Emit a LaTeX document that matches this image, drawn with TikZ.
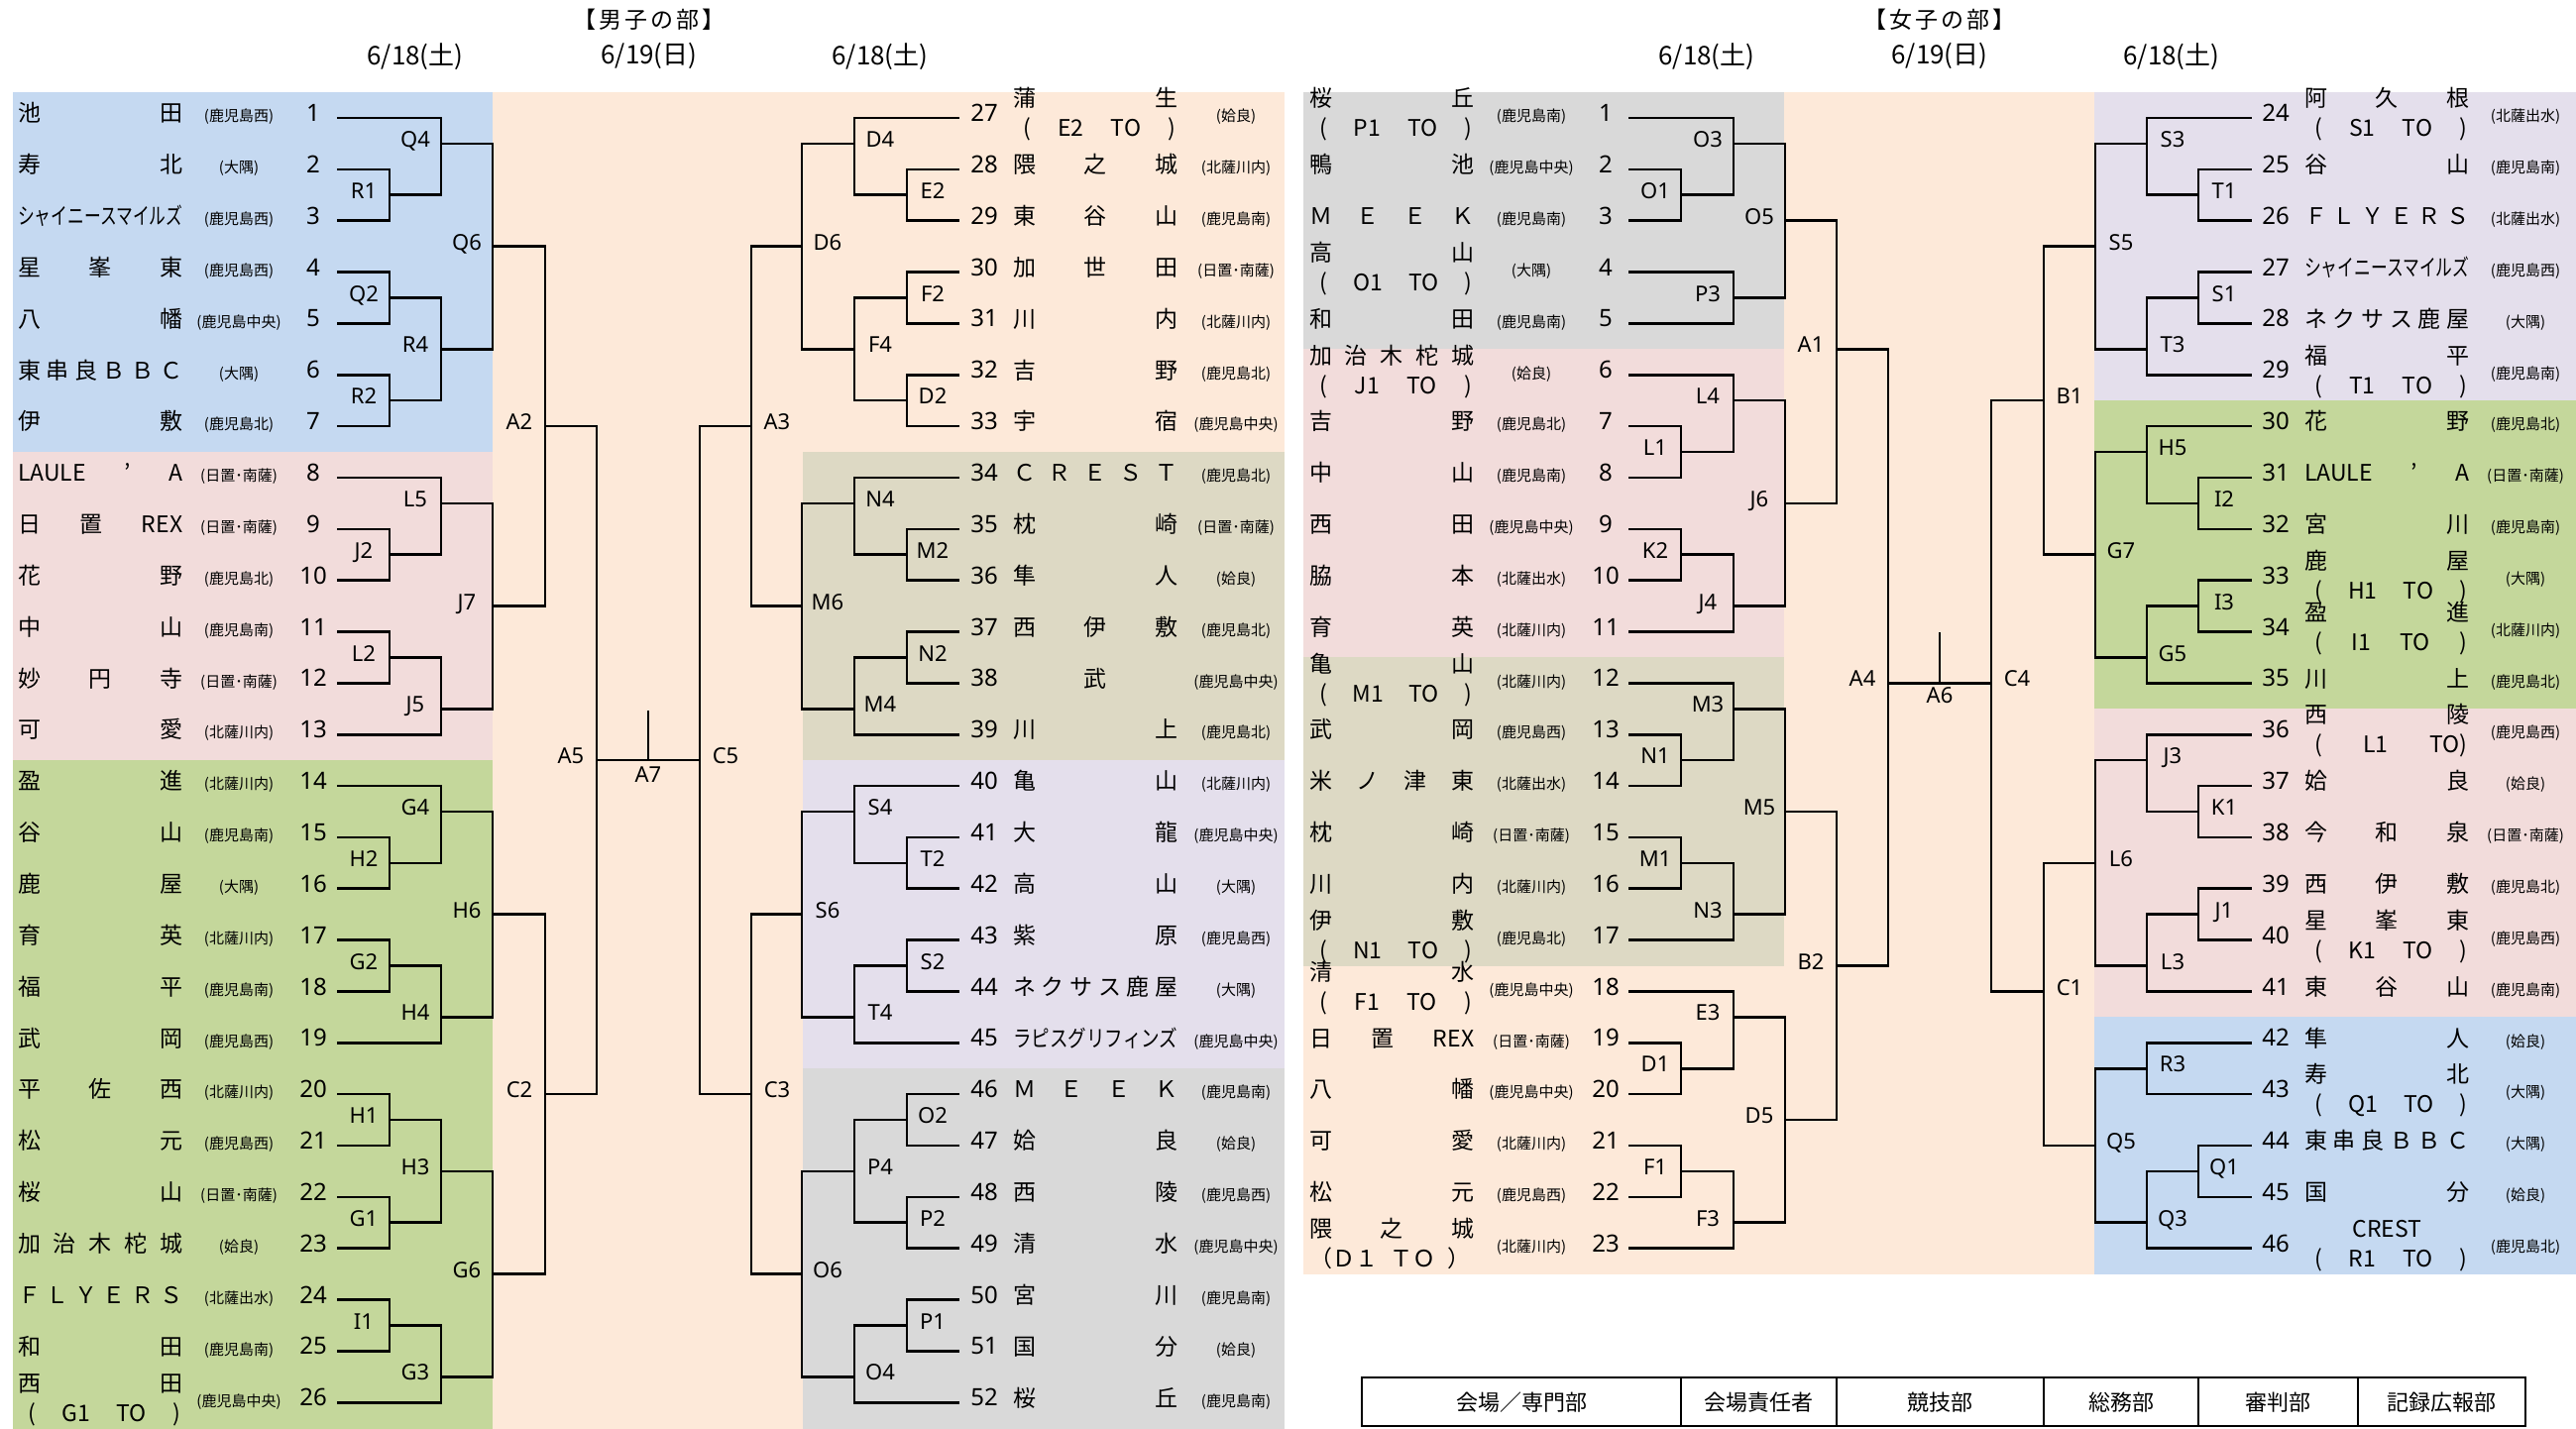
\documentclass[tikz,border=0pt]{standalone}
\usepackage{fontspec}
\usepackage{graphicx}
\setmainfont{Noto Sans CJK JP}
\newfontfamily\latf{Noto Sans}
\definecolor{cBlue}{HTML}{C5D9F1}
\definecolor{cPink}{HTML}{F2DCDB}
\definecolor{cGreen}{HTML}{C4D79B}
\definecolor{cPeach}{HTML}{FDE9D9}
\definecolor{cTan}{HTML}{DDD9C4}
\definecolor{cLav}{HTML}{E4DFEC}
\definecolor{cGrey}{HTML}{D9D9D9}
\pgfmathdeclarefunction{rowy}{1}{\pgfmathparse{119+51.85*(#1-1)}}
\tikzset{
  br/.style={line width=2.6pt, line cap=rect},
  lab/.style={font=\latf\fontsize{22}{26}\selectfont, inner sep=0pt, text height=.714em, text depth=0pt},
  num/.style={font=\latf\fontsize{24}{28}\selectfont, inner sep=0pt, text height=.714em, text depth=0pt},
  nm/.style={font=\fontsize{23}{27}\selectfont, inner sep=0pt, text height=.75em, text depth=0pt},
  dist/.style={font=\fontsize{15}{18}\selectfont, inner sep=0pt, text height=.75em, text depth=0pt},
  hd/.style={font=\fontsize{26}{30}\selectfont, inner sep=0pt},
  hc/.style={font=\fontsize{23}{27}\selectfont, inner sep=0pt},
  hdate/.style={font=\fontsize{26}{30}\selectfont, inner sep=0pt},
  tb/.style={font=\fontsize{22}{26}\selectfont, inner sep=0pt},
}
% team row: id, yrow, number, xname, xdist, xnum, name, district
\newcommand\TR[8]{%
  \node[num] (n#1) at (#6,{rowy(#2)}) {#3};
  \node[nm,anchor=west] (t#1) at (#4,{rowy(#2)}) {\hbox to 166pt{#7}};
  \node[dist] (d#1) at (#5,{rowy(#2)}) {(#8)};}
\newcommand\TRR[9]{%
  \node[num] (n#1) at (#6,{rowy(#2)}) {#3};
  \node[nm,anchor=west] (t#1) at (#4,{rowy(#2)-15}) {\hbox to 166pt{#7}};
  \node[nm,anchor=west] (u#1) at (#4,{rowy(#2)+15}) {\hbox to 166pt{#8}};
  \node[dist] (d#1) at (#5,{rowy(#2)}) {(#9)};}
\newcommand\ML[3]{\TR{m#1}{#1}{#1}{18}{241}{316}{#2}{#3}}
\newcommand\MLL[4]{\TRR{m#1}{#1}{#1}{18}{241}{316}{#2}{#3}{#4}}
\newcommand\MR[3]{\TR{m#1}{#1-26}{#1}{1022}{1247}{993}{#2}{#3}}
\newcommand\MRR[4]{\TRR{m#1}{#1-26}{#1}{1022}{1247}{993}{#2}{#3}{#4}}
\newcommand\WL[3]{\TR{w#1}{#1}{#1}{1321}{1545}{1620}{#2}{#3}}
\newcommand\WLL[4]{\TRR{w#1}{#1}{#1}{1321}{1545}{1620}{#2}{#3}{#4}}
\newcommand\WR[3]{\TR{w#1}{#1-23}{#1}{2325}{2548}{2296}{#2}{#3}}
\newcommand\WRR[4]{\TRR{w#1}{#1-23}{#1}{2325}{2548}{2296}{#2}{#3}{#4}}
\newcommand\TO[1]{\kern10pt(\hfill #1\hfill TO\hfill)\kern2pt}
\newcommand\Rsz[1]{\resizebox{166pt}{\height}{#1}}
% bracket: prefix, name, xv, a, b, out, xnext
\newcommand\bL[7]{%
  \draw[br] (#3,{rowy(#4)}) -- (#3,{rowy(#5)});
  \draw[br] (#3,{rowy(#6)}) -- (#7,{rowy(#6)});
  \node[lab] (#1#2) at ({#3-26},{rowy(#6)}) {#2};}
\newcommand\bR[7]{%
  \draw[br] (#3,{rowy(#4)}) -- (#3,{rowy(#5)});
  \draw[br] (#3,{rowy(#6)}) -- (#7,{rowy(#6)});
  \node[lab] (#1#2) at ({#3+26},{rowy(#6)}) {#2};}
\newcommand\hcs{\kern3pt}
\begin{document}
\begin{tikzpicture}[x=1pt,y=-1pt]
\useasboundingbox (0,0) rectangle (2599,1442);
\fill[white] (0,0) rectangle (2599,1442);
% ---------- backgrounds: men ----------
\fill[cPeach] (497,{rowy(.5)}) rectangle (1296,1442);
\fill[cBlue] (13,{rowy(.5)}) rectangle (497,{rowy(7.5)});
\fill[cPink] (13,{rowy(7.5)}) rectangle (497,{rowy(13.5)});
\fill[cGreen] (13,{rowy(13.5)}) rectangle (497,1442);
\fill[cTan] (810,{rowy(7.5)}) rectangle (1296,{rowy(13.5)});
\fill[cLav] (810,{rowy(13.5)}) rectangle (1296,{rowy(19.5)});
\fill[cGrey] (810,{rowy(19.5)}) rectangle (1296,1442);
% ---------- backgrounds: women ----------
\fill[cPeach] (1315,{rowy(.5)}) rectangle (2113,{rowy(23.5)});
\fill[cGrey] (1315,{rowy(.5)}) rectangle (1800,{rowy(5.5)});
\fill[cPink] (1315,{rowy(5.5)}) rectangle (1800,{rowy(11.5)});
\fill[cTan] (1315,{rowy(11.5)}) rectangle (1800,{rowy(17.5)});
\fill[cLav] (2113,{rowy(.5)}) rectangle (2599,{rowy(6.5)});
\fill[cGreen] (2113,{rowy(6.5)}) rectangle (2599,{rowy(12.5)});
\fill[cPink] (2113,{rowy(12.5)}) rectangle (2599,{rowy(18.5)});
\fill[cBlue] (2113,{rowy(18.5)}) rectangle (2599,{rowy(23.5)});
% ---------- headers ----------
\node[hd] (h1) at (419,57) {6/18(土)};
\node[hc] (h2) at (655,20) {【\hcs 男\hcs 子\hcs の\hcs 部\hcs 】};
\node[hdate] (h3) at (655,56) {6/19(日)};
\node[hd] (h4) at (888,57) {6/18(土)};
\node[hd] (h5) at (1722,57) {6/18(土)};
\node[hc] (h6) at (1957,20) {【\hcs 女\hcs 子\hcs の\hcs 部\hcs 】};
\node[hdate] (h7) at (1957,56) {6/19(日)};
\node[hd] (h8) at (2191,57) {6/18(土)};
% ---------- men left teams ----------
\ML{1}{池\hfill 田}{鹿児島西}
\ML{2}{寿\hfill 北}{大隅}
\ML{3}{\Rsz{シャイニースマイルズ}}{鹿児島西}
\ML{4}{星\hfill 峯\hfill 東}{鹿児島西}
\ML{5}{八\hfill 幡}{鹿児島中央}
\ML{6}{東\hfill 串\hfill 良\hfill Ｂ\hfill Ｂ\hfill Ｃ}{大隅}
\ML{7}{伊\hfill 敷}{鹿児島北}
\ML{8}{LAULE\hfill ’\hfill A}{日置･南薩}
\ML{9}{日\hfill 置\hfill REX}{日置･南薩}
\ML{10}{花\hfill 野}{鹿児島北}
\ML{11}{中\hfill 山}{鹿児島南}
\ML{12}{妙\hfill 円\hfill 寺}{日置･南薩}
\ML{13}{可\hfill 愛}{北薩川内}
\ML{14}{盈\hfill 進}{北薩川内}
\ML{15}{谷\hfill 山}{鹿児島南}
\ML{16}{鹿\hfill 屋}{大隅}
\ML{17}{育\hfill 英}{北薩川内}
\ML{18}{福\hfill 平}{鹿児島南}
\ML{19}{武\hfill 岡}{鹿児島西}
\ML{20}{平\hfill 佐\hfill 西}{北薩川内}
\ML{21}{松\hfill 元}{鹿児島西}
\ML{22}{桜\hfill 山}{日置･南薩}
\ML{23}{加\hfill 治\hfill 木\hfill 柁\hfill 城}{姶良}
\ML{24}{Ｆ\hfill Ｌ\hfill Ｙ\hfill Ｅ\hfill Ｒ\hfill Ｓ}{北薩出水}
\ML{25}{和\hfill 田}{鹿児島南}
\MLL{26}{西\hfill 田}{\TO{G1}}{鹿児島中央}
% ---------- men right teams ----------
\MRR{27}{蒲\hfill 生}{\TO{E2}}{姶良}
\MR{28}{隈\hfill 之\hfill 城}{北薩川内}
\MR{29}{東\hfill 谷\hfill 山}{鹿児島南}
\MR{30}{加\hfill 世\hfill 田}{日置･南薩}
\MR{31}{川\hfill 内}{北薩川内}
\MR{32}{吉\hfill 野}{鹿児島北}
\MR{33}{宇\hfill 宿}{鹿児島中央}
\MR{34}{Ｃ\hfill Ｒ\hfill Ｅ\hfill Ｓ\hfill Ｔ}{鹿児島北}
\MR{35}{枕\hfill 崎}{日置･南薩}
\MR{36}{隼\hfill 人}{姶良}
\MR{37}{西\hfill 伊\hfill 敷}{鹿児島北}
\MR{38}{\hfill 武\hfill}{鹿児島中央}
\MR{39}{川\hfill 上}{鹿児島北}
\MR{40}{亀\hfill 山}{北薩川内}
\MR{41}{大\hfill 龍}{鹿児島中央}
\MR{42}{高\hfill 山}{大隅}
\MR{43}{紫\hfill 原}{鹿児島西}
\MR{44}{ネ\hfill ク\hfill サ\hfill ス\hfill 鹿\hfill 屋}{大隅}
\MR{45}{\Rsz{ラピスグリフィンズ}}{鹿児島中央}
\MR{46}{Ｍ\hfill Ｅ\hfill Ｅ\hfill Ｋ}{鹿児島南}
\MR{47}{姶\hfill 良}{姶良}
\MR{48}{西\hfill 陵}{鹿児島西}
\MR{49}{清\hfill 水}{鹿児島中央}
\MR{50}{宮\hfill 川}{鹿児島南}
\MR{51}{国\hfill 分}{姶良}
\MR{52}{桜\hfill 丘}{鹿児島南}
% ---------- women left teams ----------
\WLL{1}{桜\hfill 丘}{\TO{P1}}{鹿児島南}
\WL{2}{鴨\hfill 池}{鹿児島中央}
\WL{3}{Ｍ\hfill Ｅ\hfill Ｅ\hfill Ｋ}{鹿児島南}
\WLL{4}{高\hfill 山}{\TO{O1}}{大隅}
\WL{5}{和\hfill 田}{鹿児島南}
\WLL{6}{加\hfill 治\hfill 木\hfill 柁\hfill 城}{\TO{J1}}{姶良}
\WL{7}{吉\hfill 野}{鹿児島北}
\WL{8}{中\hfill 山}{鹿児島南}
\WL{9}{西\hfill 田}{鹿児島中央}
\WL{10}{脇\hfill 本}{北薩出水}
\WL{11}{育\hfill 英}{北薩川内}
\WLL{12}{亀\hfill 山}{\TO{M1}}{北薩川内}
\WL{13}{武\hfill 岡}{鹿児島西}
\WL{14}{米\hfill ノ\hfill 津\hfill 東}{北薩出水}
\WL{15}{枕\hfill 崎}{日置･南薩}
\WL{16}{川\hfill 内}{北薩川内}
\WLL{17}{伊\hfill 敷}{\TO{N1}}{鹿児島北}
\WLL{18}{清\hfill 水}{\TO{F1}}{鹿児島中央}
\WL{19}{日\hfill 置\hfill REX}{日置･南薩}
\WL{20}{八\hfill 幡}{鹿児島中央}
\WL{21}{可\hfill 愛}{北薩川内}
\WL{22}{松\hfill 元}{鹿児島西}
\WLL{23}{隈\hfill 之\hfill 城}{（Ｄ１\kern12pt ＴＯ\kern12pt ）\hfill}{北薩川内}
% ---------- women right teams ----------
\WRR{24}{阿\hfill 久\hfill 根}{\TO{S1}}{北薩出水}
\WR{25}{谷\hfill 山}{鹿児島南}
\WR{26}{Ｆ\hfill Ｌ\hfill Ｙ\hfill Ｅ\hfill Ｒ\hfill Ｓ}{北薩出水}
\WR{27}{\Rsz{シャイニースマイルズ}}{鹿児島西}
\WR{28}{ネ\hfill ク\hfill サ\hfill ス\hfill 鹿\hfill 屋}{大隅}
\WRR{29}{福\hfill 平}{\TO{T1}}{鹿児島南}
\WR{30}{花\hfill 野}{鹿児島北}
\WR{31}{LAULE\hfill ’\hfill A}{日置･南薩}
\WR{32}{宮\hfill 川}{鹿児島南}
\WRR{33}{鹿\hfill 屋}{\TO{H1}}{大隅}
\WRR{34}{盈\hfill 進}{\TO{I1}}{北薩川内}
\WR{35}{川\hfill 上}{鹿児島北}
\WRR{36}{西\hfill 陵}{\kern10pt(\hfill L1\hfill TO)\kern2pt}{鹿児島西}
\WR{37}{姶\hfill 良}{姶良}
\WR{38}{今\hfill 和\hfill 泉}{日置･南薩}
\WR{39}{西\hfill 伊\hfill 敷}{鹿児島北}
\WRR{40}{星\hfill 峯\hfill 東}{\TO{K1}}{鹿児島西}
\WR{41}{東\hfill 谷\hfill 山}{鹿児島南}
\WR{42}{隼\hfill 人}{姶良}
\WRR{43}{寿\hfill 北}{\TO{Q1}}{大隅}
\WR{44}{東\hfill 串\hfill 良\hfill Ｂ\hfill Ｂ\hfill Ｃ}{大隅}
\WR{45}{国\hfill 分}{姶良}
\WRR{46}{\hfill CREST\hfill}{\TO{R1}}{鹿児島北}
% ---------- team lines ----------
\foreach \r/\x in {1/445,2/393,3/393,4/393,5/393,6/393,7/393,8/445,9/393,10/393,11/393,12/393,13/445,14/445,15/393,16/393,17/393,18/393,19/445,20/393,21/393,22/393,23/393,24/393,25/393,26/445}
  \draw[br] (341,{rowy(\r)}) -- (\x,{rowy(\r)});
\foreach \r/\x in {1/862,2/915,3/915,4/915,5/915,6/915,7/915,8/862,9/915,10/915,11/915,12/915,13/862,14/862,15/915,16/915,17/915,18/915,19/862,20/915,21/915,22/915,23/915,24/915,25/915,26/862}
  \draw[br] (967,{rowy(\r)}) -- (\x,{rowy(\r)});
\foreach \r/\x in {1/1749,2/1696,3/1696,4/1749,5/1749,6/1749,7/1696,8/1696,9/1696,10/1696,11/1749,12/1749,13/1696,14/1696,15/1696,16/1696,17/1749,18/1749,19/1696,20/1696,21/1696,22/1696,23/1749}
  \draw[br] (1644,{rowy(\r)}) -- (\x,{rowy(\r)});
\foreach \r/\x in {1/2166,2/2218,3/2218,4/2218,5/2218,6/2166,7/2166,8/2218,9/2218,10/2218,11/2218,12/2166,13/2166,14/2218,15/2218,16/2218,17/2218,18/2166,19/2166,20/2166,21/2218,22/2218,23/2166}
  \draw[br] (2271,{rowy(\r)}) -- (\x,{rowy(\r)});
% ---------- men left brackets ----------
\bL{m}{R1}{393}{2}{3}{2.5}{445}
\bL{m}{Q4}{445}{1}{2.5}{1.5}{497}
\bL{m}{Q2}{393}{4}{5}{4.5}{445}
\bL{m}{R2}{393}{6}{7}{6.5}{445}
\bL{m}{R4}{445}{4.5}{6.5}{5.5}{497}
\bL{m}{Q6}{497}{1.5}{5.5}{3.5}{550}
\bL{m}{J2}{393}{9}{10}{9.5}{445}
\bL{m}{L5}{445}{8}{9.5}{8.5}{497}
\bL{m}{L2}{393}{11}{12}{11.5}{445}
\bL{m}{J5}{445}{11.5}{13}{12.5}{497}
\bL{m}{J7}{497}{8.5}{12.5}{10.5}{550}
\bL{m}{H2}{393}{15}{16}{15.5}{445}
\bL{m}{G4}{445}{14}{15.5}{14.5}{497}
\bL{m}{G2}{393}{17}{18}{17.5}{445}
\bL{m}{H4}{445}{17.5}{19}{18.5}{497}
\bL{m}{H6}{497}{14.5}{18.5}{16.5}{550}
\bL{m}{H1}{393}{20}{21}{20.5}{445}
\bL{m}{G1}{393}{22}{23}{22.5}{445}
\bL{m}{H3}{445}{20.5}{22.5}{21.5}{497}
\bL{m}{I1}{393}{24}{25}{24.5}{445}
\bL{m}{G3}{445}{24.5}{26}{25.5}{497}
\bL{m}{G6}{497}{21.5}{25.5}{23.5}{550}
\bL{m}{A2}{550}{3.5}{10.5}{7}{602}
\bL{m}{C2}{550}{16.5}{23.5}{20}{602}
\bL{m}{A5}{602}{7}{20}{13.5}{654}
% ---------- men right brackets ----------
\bR{m}{E2}{915}{2}{3}{2.5}{862}
\bR{m}{D4}{862}{1}{2.5}{1.5}{809}
\bR{m}{F2}{915}{4}{5}{4.5}{862}
\bR{m}{D2}{915}{6}{7}{6.5}{862}
\bR{m}{F4}{862}{4.5}{6.5}{5.5}{809}
\bR{m}{D6}{809}{1.5}{5.5}{3.5}{758}
\bR{m}{M2}{915}{9}{10}{9.5}{862}
\bR{m}{N4}{862}{8}{9.5}{8.5}{809}
\bR{m}{N2}{915}{11}{12}{11.5}{862}
\bR{m}{M4}{862}{11.5}{13}{12.5}{809}
\bR{m}{M6}{809}{8.5}{12.5}{10.5}{758}
\bR{m}{T2}{915}{15}{16}{15.5}{862}
\bR{m}{S4}{862}{14}{15.5}{14.5}{809}
\bR{m}{S2}{915}{17}{18}{17.5}{862}
\bR{m}{T4}{862}{17.5}{19}{18.5}{809}
\bR{m}{S6}{809}{14.5}{18.5}{16.5}{758}
\bR{m}{O2}{915}{20}{21}{20.5}{862}
\bR{m}{P2}{915}{22}{23}{22.5}{862}
\bR{m}{P4}{862}{20.5}{22.5}{21.5}{809}
\bR{m}{P1}{915}{24}{25}{24.5}{862}
\bR{m}{O4}{862}{24.5}{26}{25.5}{809}
\bR{m}{O6}{809}{21.5}{25.5}{23.5}{758}
\bR{m}{A3}{758}{3.5}{10.5}{7}{706}
\bR{m}{C3}{758}{16.5}{23.5}{20}{706}
\bR{m}{C5}{706}{7}{20}{13.5}{654}
\draw[br] (654,{rowy(13.5)-49}) -- (654,{rowy(13.5)});
\node[lab] (mA7) at (654,{rowy(13.5)+19}) {A7};
% ---------- women left brackets ----------
\bL{w}{O1}{1696}{2}{3}{2.5}{1749}
\bL{w}{O3}{1749}{1}{2.5}{1.5}{1801}
\bL{w}{P3}{1749}{4}{5}{4.5}{1801}
\bL{w}{O5}{1801}{1.5}{4.5}{3}{1853}
\bL{w}{L1}{1696}{7}{8}{7.5}{1749}
\bL{w}{L4}{1749}{6}{7.5}{6.5}{1801}
\bL{w}{K2}{1696}{9}{10}{9.5}{1749}
\bL{w}{J4}{1749}{9.5}{11}{10.5}{1801}
\bL{w}{J6}{1801}{6.5}{10.5}{8.5}{1853}
\bL{w}{N1}{1696}{13}{14}{13.5}{1749}
\bL{w}{M3}{1749}{12}{13.5}{12.5}{1801}
\bL{w}{M1}{1696}{15}{16}{15.5}{1749}
\bL{w}{N3}{1749}{15.5}{17}{16.5}{1801}
\bL{w}{M5}{1801}{12.5}{16.5}{14.5}{1853}
\bL{w}{D1}{1696}{19}{20}{19.5}{1749}
\bL{w}{E3}{1749}{18}{19.5}{18.5}{1801}
\bL{w}{F1}{1696}{21}{22}{21.5}{1749}
\bL{w}{F3}{1749}{21.5}{23}{22.5}{1801}
\bL{w}{D5}{1801}{18.5}{22.5}{20.5}{1853}
\bL{w}{A1}{1853}{3}{8.5}{5.5}{1905}
\bL{w}{B2}{1853}{14.5}{20.5}{17.5}{1905}
\bL{w}{A4}{1905}{5.5}{17.5}{12}{1957}
% ---------- women right brackets ----------
\bR{w}{T1}{2218}{2}{3}{2.5}{2166}
\bR{w}{S3}{2166}{1}{2.5}{1.5}{2114}
\bR{w}{S1}{2218}{4}{5}{4.5}{2166}
\bR{w}{T3}{2166}{4.5}{6}{5.5}{2114}
\bR{w}{S5}{2114}{1.5}{5.5}{3.5}{2062}
\bR{w}{I2}{2218}{8}{9}{8.5}{2166}
\bR{w}{H5}{2166}{7}{8.5}{7.5}{2114}
\bR{w}{I3}{2218}{10}{11}{10.5}{2166}
\bR{w}{G5}{2166}{10.5}{12}{11.5}{2114}
\bR{w}{G7}{2114}{7.5}{11.5}{9.5}{2062}
\bR{w}{K1}{2218}{14}{15}{14.5}{2166}
\bR{w}{J3}{2166}{13}{14.5}{13.5}{2114}
\bR{w}{J1}{2218}{16}{17}{16.5}{2166}
\bR{w}{L3}{2166}{16.5}{18}{17.5}{2114}
\bR{w}{L6}{2114}{13.5}{17.5}{15.5}{2062}
\bR{w}{R3}{2166}{19}{20}{19.5}{2114}
\bR{w}{Q1}{2218}{21}{22}{21.5}{2166}
\bR{w}{Q3}{2166}{21.5}{23}{22.5}{2114}
\bR{w}{Q5}{2114}{19.5}{22.5}{21}{2062}
\bR{w}{B1}{2062}{3.5}{9.5}{6.5}{2009}
\bR{w}{C1}{2062}{15.5}{21}{18}{2009}
\bR{w}{C4}{2009}{6.5}{18}{12}{1957}
\draw[br] (1957,{rowy(12)-50}) -- (1957,{rowy(12)});
\node[lab] (wA6) at (1957,{rowy(12)+17}) {A6};
% ---------- table ----------
\draw[line width=2.6pt] (1374,1390) rectangle (2548,1439);
\foreach \x in {1696,1853,2062,2218,2379}
  \draw[line width=2.6pt] (\x,1390) -- (\x,1439);
\node[tb] (k1) at (1535,1415) {会場／専門部};
\node[tb] (k2) at (1774,1415) {会場責任者};
\node[tb] (k3) at (1957,1415) {競技部};
\node[tb] (k4) at (2140,1415) {総務部};
\node[tb] (k5) at (2298,1415) {審判部};
\node[tb] (k6) at (2463,1415) {記録広報部};
\end{tikzpicture}
\end{document}
